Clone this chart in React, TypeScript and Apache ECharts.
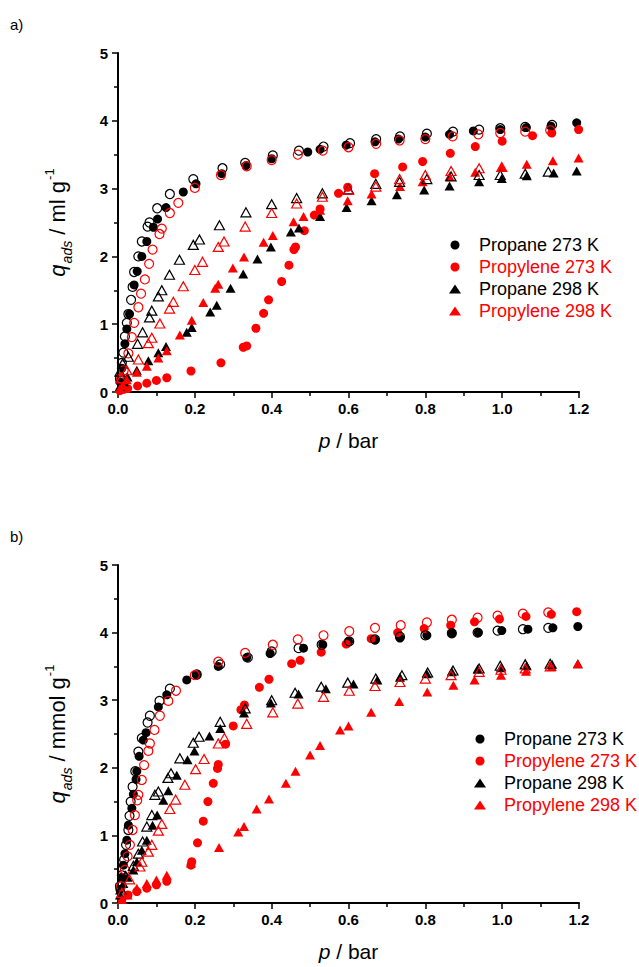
import React, { useEffect, useRef } from "react";
import * as echarts from "echarts";

type P = [number, number];

// ---------- Panel a) ml g-1 ----------
const aPropane273Ads: P[] = [[0.005,0.15],[0.01,0.35],[0.018,0.71],[0.023,0.93],[0.03,1.15],[0.042,1.58],[0.05,1.78],[0.062,2.0],[0.075,2.22],[0.092,2.43],[0.103,2.55],[0.125,2.72],[0.17,2.95],[0.203,3.07],[0.27,3.22],[0.333,3.34],[0.40,3.44],[0.494,3.54],[0.526,3.58],[0.594,3.64],[0.669,3.69],[0.73,3.73],[0.80,3.76],[0.863,3.80],[0.925,3.85],[0.995,3.87],[1.063,3.90],[1.127,3.92],[1.194,3.97]];
const aPropane273Des: P[] = [[0.005,0.2],[0.01,0.43],[0.014,0.58],[0.018,0.82],[0.023,1.02],[0.027,1.15],[0.034,1.36],[0.038,1.55],[0.042,1.77],[0.053,2.0],[0.062,2.22],[0.077,2.44],[0.082,2.50],[0.102,2.71],[0.135,2.92],[0.196,3.14],[0.272,3.30],[0.331,3.38],[0.403,3.49],[0.471,3.56],[0.535,3.62],[0.604,3.67],[0.672,3.73],[0.734,3.77],[0.804,3.81],[0.872,3.84],[0.94,3.87],[0.995,3.89],[1.06,3.91],[1.13,3.94]];
const aPropylene273Ads: P[] = [[0.005,0.02],[0.015,0.04],[0.025,0.05],[0.051,0.09],[0.075,0.13],[0.10,0.17],[0.127,0.21],[0.19,0.31],[0.268,0.43],[0.326,0.66],[0.335,0.68],[0.359,0.94],[0.379,1.16],[0.392,1.36],[0.426,1.63],[0.445,1.87],[0.458,2.10],[0.462,2.14],[0.485,2.38],[0.511,2.61],[0.526,2.70],[0.574,2.93],[0.598,3.02],[0.668,3.22],[0.741,3.32],[0.793,3.40],[0.865,3.52],[0.93,3.62],[1.0,3.70],[1.079,3.78],[1.129,3.82],[1.199,3.87]];
const aPropylene273Des: P[] = [[0.008,0.2],[0.015,0.32],[0.027,0.57],[0.036,0.81],[0.042,1.02],[0.053,1.25],[0.06,1.45],[0.07,1.66],[0.081,1.89],[0.09,2.10],[0.108,2.33],[0.114,2.41],[0.135,2.64],[0.157,2.79],[0.20,3.01],[0.268,3.20],[0.335,3.33],[0.40,3.42],[0.468,3.50],[0.533,3.56],[0.60,3.61],[0.672,3.66],[0.733,3.71],[0.80,3.73],[0.871,3.77],[0.938,3.80],[0.995,3.82],[1.06,3.84],[1.125,3.86]];
const aPropane298Ads: P[] = [[0.005,0.08],[0.015,0.15],[0.025,0.22],[0.049,0.32],[0.079,0.46],[0.105,0.58],[0.125,0.67],[0.179,0.88],[0.192,0.95],[0.24,1.18],[0.257,1.28],[0.293,1.53],[0.326,1.74],[0.363,1.96],[0.398,2.14],[0.45,2.36],[0.471,2.42],[0.526,2.59],[0.595,2.72],[0.66,2.82],[0.726,2.91],[0.797,2.98],[0.863,3.04],[0.94,3.10],[0.999,3.15],[1.064,3.19],[1.134,3.23],[1.194,3.26]];
const aPropane298Des: P[] = [[0.005,0.3],[0.012,0.42],[0.027,0.52],[0.051,0.71],[0.064,0.88],[0.082,1.10],[0.088,1.20],[0.105,1.41],[0.114,1.50],[0.134,1.73],[0.16,1.95],[0.196,2.17],[0.212,2.25],[0.264,2.46],[0.333,2.65],[0.40,2.77],[0.465,2.86],[0.532,2.93],[0.60,2.99],[0.671,3.07],[0.733,3.10],[0.804,3.14],[0.867,3.18],[0.94,3.20],[0.995,3.20],[1.06,3.22],[1.12,3.25]];
const aPropylene298Ads: P[] = [[0.005,0.05],[0.012,0.1],[0.023,0.18],[0.049,0.29],[0.075,0.38],[0.105,0.50],[0.127,0.61],[0.161,0.84],[0.192,1.06],[0.222,1.32],[0.253,1.53],[0.261,1.59],[0.299,1.83],[0.328,1.99],[0.379,2.21],[0.403,2.31],[0.457,2.51],[0.483,2.59],[0.526,2.68],[0.598,2.82],[0.66,2.92],[0.734,3.03],[0.793,3.10],[0.863,3.18],[0.93,3.24],[0.999,3.31],[1.064,3.36],[1.132,3.41],[1.199,3.45]];
const aPropylene298Des: P[] = [[0.008,0.2],[0.023,0.32],[0.053,0.48],[0.079,0.72],[0.088,0.80],[0.109,1.01],[0.134,1.23],[0.144,1.33],[0.17,1.56],[0.20,1.80],[0.22,1.92],[0.261,2.14],[0.276,2.22],[0.331,2.44],[0.40,2.64],[0.465,2.78],[0.532,2.88],[0.60,2.98],[0.671,3.03],[0.733,3.14],[0.80,3.20],[0.867,3.26],[0.94,3.30],[0.999,3.32]];

// ---------- Panel b) mmol g-1 ----------
const bPropane273Ads: P[] = [[0.005,0.2],[0.01,0.38],[0.014,0.56],[0.018,0.73],[0.023,0.93],[0.027,1.15],[0.036,1.40],[0.04,1.61],[0.047,1.83],[0.049,1.95],[0.055,2.17],[0.066,2.41],[0.073,2.52],[0.105,2.90],[0.127,3.08],[0.179,3.30],[0.205,3.37],[0.261,3.50],[0.335,3.63],[0.396,3.69],[0.483,3.77],[0.533,3.82],[0.60,3.87],[0.669,3.89],[0.734,3.92],[0.804,3.96],[0.869,3.99],[0.938,4.00],[0.999,4.03],[1.067,4.05],[1.132,4.07],[1.197,4.09]];
const bPropane273Des: P[] = [[0.005,0.25],[0.01,0.41],[0.016,0.64],[0.021,0.86],[0.027,1.08],[0.03,1.29],[0.033,1.50],[0.038,1.72],[0.045,1.95],[0.053,2.24],[0.062,2.44],[0.077,2.67],[0.083,2.77],[0.108,2.99],[0.135,3.17],[0.205,3.38],[0.266,3.53],[0.338,3.63],[0.40,3.72],[0.47,3.77],[0.53,3.82],[0.602,3.87],[0.669,3.90],[0.734,3.94],[0.80,3.96],[0.869,3.99],[0.936,4.00],[0.988,4.03],[1.054,4.05],[1.12,4.07]];
const bPropylene273Ads: P[] = [[0.01,0.05],[0.026,0.12],[0.049,0.17],[0.075,0.22],[0.10,0.27],[0.127,0.32],[0.19,0.56],[0.192,0.61],[0.207,0.89],[0.222,1.21],[0.234,1.50],[0.248,1.77],[0.259,1.99],[0.261,2.05],[0.28,2.35],[0.30,2.62],[0.32,2.86],[0.329,2.93],[0.368,3.19],[0.393,3.31],[0.452,3.54],[0.474,3.59],[0.529,3.71],[0.594,3.83],[0.659,3.91],[0.728,4.00],[0.797,4.06],[0.866,4.11],[0.928,4.16],[0.993,4.20],[1.062,4.24],[1.128,4.27],[1.194,4.31]];
const bPropylene273Des: P[] = [[0.008,0.25],[0.018,0.49],[0.025,0.69],[0.031,0.86],[0.038,1.08],[0.044,1.30],[0.05,1.52],[0.053,1.60],[0.062,1.82],[0.068,2.04],[0.079,2.25],[0.083,2.36],[0.095,2.56],[0.109,2.77],[0.131,2.99],[0.151,3.14],[0.20,3.37],[0.261,3.57],[0.331,3.70],[0.403,3.82],[0.468,3.90],[0.535,3.96],[0.602,4.02],[0.669,4.07],[0.736,4.11],[0.804,4.15],[0.869,4.19],[0.936,4.22],[0.988,4.25],[1.054,4.28],[1.12,4.30]];
const bPropane298Ads: P[] = [[0.005,0.12],[0.014,0.29],[0.025,0.38],[0.04,0.49],[0.049,0.61],[0.062,0.78],[0.075,0.93],[0.09,1.15],[0.102,1.30],[0.118,1.52],[0.131,1.66],[0.153,1.89],[0.181,2.12],[0.199,2.25],[0.238,2.47],[0.266,2.58],[0.328,2.81],[0.398,2.96],[0.47,3.09],[0.541,3.17],[0.613,3.24],[0.675,3.30],[0.734,3.34],[0.804,3.39],[0.869,3.42],[0.936,3.46],[0.997,3.48],[1.064,3.51],[1.13,3.53],[1.197,3.54]];
const bPropane298Des: P[] = [[0.008,0.2],[0.02,0.4],[0.04,0.55],[0.053,0.73],[0.064,0.91],[0.075,1.13],[0.088,1.30],[0.096,1.60],[0.105,1.65],[0.13,1.85],[0.138,1.92],[0.161,2.14],[0.196,2.37],[0.211,2.46],[0.266,2.68],[0.331,2.88],[0.40,3.00],[0.461,3.11],[0.529,3.20],[0.598,3.26],[0.671,3.32],[0.739,3.37],[0.806,3.41],[0.872,3.44],[0.94,3.47],[0.995,3.51],[1.06,3.53],[1.125,3.54]];
const bPropylene298Ads: P[] = [[0.01,0.05],[0.025,0.12],[0.049,0.22],[0.075,0.29],[0.10,0.34],[0.127,0.41],[0.19,0.59],[0.263,0.82],[0.313,1.05],[0.328,1.13],[0.361,1.39],[0.393,1.54],[0.437,1.77],[0.462,1.95],[0.50,2.19],[0.526,2.33],[0.578,2.56],[0.60,2.62],[0.659,2.82],[0.732,2.98],[0.805,3.12],[0.873,3.22],[0.928,3.30],[0.997,3.37],[1.062,3.43],[1.129,3.50],[1.197,3.54]];
const bPropylene298Des: P[] = [[0.01,0.15],[0.03,0.35],[0.057,0.54],[0.062,0.61],[0.079,0.76],[0.088,0.86],[0.105,1.07],[0.114,1.17],[0.135,1.39],[0.15,1.53],[0.174,1.75],[0.202,1.98],[0.224,2.13],[0.261,2.36],[0.277,2.44],[0.335,2.65],[0.403,2.82],[0.468,2.95],[0.535,3.05],[0.602,3.14],[0.669,3.21],[0.734,3.27],[0.80,3.32],[0.867,3.37],[0.94,3.42],[0.997,3.45],[1.06,3.47],[1.125,3.50]];

const legendNames = ["Propane 273 K", "Propylene 273 K", "Propane 298 K", "Propylene 298 K"];
const xTickLabels = ["0.0", "0.2", "0.4", "0.6", "0.8", "1.0", "1.2"];
const yTickLabels = ["0", "1", "2", "3", "4", "5"];

const BLACK = "#000000";
const RED = "#ff0000";
const FONT = "Liberation Sans, Arial, sans-serif";

export default function App() {
  const ref = useRef<HTMLDivElement>(null);
  useEffect(() => {
    document.body.style.margin = "0";
    if (!ref.current) return;
    const chart = echarts.init(ref.current, undefined, { renderer: "svg" });

    const grids = [
      { left: 118, top: 53, width: 461, height: 339 },
      { left: 118, top: 565, width: 461, height: 338 },
    ];

    const xAxisFor = (gi: number) => ({
      type: "value",
      gridIndex: gi,
      min: 0,
      max: 1.2,
      interval: 0.2,
      name: "{i|p}{t| / bar}",
      nameLocation: "middle",
      nameGap: 38,
      nameTextStyle: {
        rich: {
          i: { fontStyle: "italic", fontSize: 21, fontFamily: FONT, color: BLACK },
          t: { fontSize: 21, fontFamily: FONT, color: BLACK },
        },
      },
      axisLine: { show: true, lineStyle: { color: BLACK, width: 2 } },
      axisTick: { show: true, inside: false, length: 6, lineStyle: { color: BLACK, width: 1.5 } },
      minorTick: { show: true, splitNumber: 2, length: 4, lineStyle: { color: BLACK, width: 1.5 } },
      splitLine: { show: false },
      axisLabel: {
        margin: 9,
        fontSize: 15,
        fontWeight: "bold",
        fontFamily: FONT,
        color: BLACK,
        formatter: (v: number) => xTickLabels[Math.round(v / 0.2)] ?? "",
      },
    });

    const yAxisFor = (gi: number, unit: string) => ({
      type: "value",
      gridIndex: gi,
      min: 0,
      max: 5,
      interval: 1,
      name: `{i|q}{sub|ads}{t| / ${unit} g}{sup|-1}`,
      nameLocation: "middle",
      nameRotate: 90,
      nameGap: 44,
      nameTextStyle: {
        rich: {
          i: { fontStyle: "italic", fontSize: 22, lineHeight: 22, fontFamily: FONT, color: BLACK, verticalAlign: "bottom", padding: [0, 0, 6, 0] },
          sub: { fontStyle: "italic", fontSize: 14, lineHeight: 14, fontFamily: FONT, color: BLACK, verticalAlign: "bottom", padding: [0, 0, 0, 1] },
          t: { fontSize: 22, lineHeight: 22, fontFamily: FONT, color: BLACK, verticalAlign: "bottom", padding: [0, 0, 6, 0] },
          sup: { fontSize: 13, lineHeight: 13, fontFamily: FONT, color: BLACK, verticalAlign: "bottom", padding: [0, 0, 18, 1] },
        },
      },
      axisLine: { show: true, lineStyle: { color: BLACK, width: 2 } },
      axisTick: { show: true, inside: false, length: 6, lineStyle: { color: BLACK, width: 1.5 } },
      minorTick: { show: true, splitNumber: 2, length: 4, lineStyle: { color: BLACK, width: 1.5 } },
      splitLine: { show: false },
      axisLabel: {
        margin: 10,
        fontSize: 15,
        fontWeight: "bold",
        fontFamily: FONT,
        color: BLACK,
        formatter: (v: number) => yTickLabels[Math.round(v)] ?? "",
      },
    });

    const filled = (name: string, gi: number, data: P[], color: string, symbol: string, size: any) => ({
      type: "scatter",
      name,
      xAxisIndex: gi,
      yAxisIndex: gi,
      data,
      symbol,
      symbolSize: size,
      itemStyle: { color, opacity: 1 },
      z: 2,
    });
    const open = (name: string, gi: number, data: P[], color: string, symbol: string, size: any) => ({
      type: "scatter",
      name,
      xAxisIndex: gi,
      yAxisIndex: gi,
      data,
      symbol,
      symbolSize: size,
      itemStyle: { color: "rgba(255,255,255,0)", borderColor: color, borderWidth: 1.2, opacity: 1 },
      z: 3,
    });

    const CS = 9;
    const TS = [10, 9];

    const series = [
      filled(legendNames[0], 0, aPropane273Ads, BLACK, "circle", CS),
      filled(legendNames[1], 0, aPropylene273Ads, RED, "circle", CS),
      filled(legendNames[2], 0, aPropane298Ads, BLACK, "triangle", TS),
      filled(legendNames[3], 0, aPropylene298Ads, RED, "triangle", TS),
      open("a Propane 273 K desorption", 0, aPropane273Des, BLACK, "circle", CS),
      open("a Propylene 273 K desorption", 0, aPropylene273Des, RED, "circle", CS),
      open("a Propane 298 K desorption", 0, aPropane298Des, BLACK, "triangle", TS),
      open("a Propylene 298 K desorption", 0, aPropylene298Des, RED, "triangle", TS),
      filled(legendNames[0], 1, bPropane273Ads, BLACK, "circle", CS),
      filled(legendNames[1], 1, bPropylene273Ads, RED, "circle", CS),
      filled(legendNames[2], 1, bPropane298Ads, BLACK, "triangle", TS),
      filled(legendNames[3], 1, bPropylene298Ads, RED, "triangle", TS),
      open("b Propane 273 K desorption", 1, bPropane273Des, BLACK, "circle", CS),
      open("b Propylene 273 K desorption", 1, bPropylene273Des, RED, "circle", CS),
      open("b Propane 298 K desorption", 1, bPropane298Des, BLACK, "triangle", TS),
      open("b Propylene 298 K desorption", 1, bPropylene298Des, RED, "triangle", TS),
    ];

    const legendFor = (left: number, top: number) => ({
      orient: "vertical",
      left,
      top,
      itemWidth: 12,
      itemHeight: 9,
      itemGap: 4,
      selectedMode: false,
      data: legendNames.map((n, i) => ({
        name: n,
        textStyle: { color: i % 2 === 0 ? BLACK : RED },
      })),
      textStyle: { fontSize: 18, fontFamily: FONT, padding: [0, 0, 0, 13] },
    });

    chart.setOption({
      animation: false,
      backgroundColor: "#ffffff",
      grid: grids,
      xAxis: [xAxisFor(0), xAxisFor(1)],
      yAxis: [yAxisFor(0, "ml"), yAxisFor(1, "mmol")],
      legend: [legendFor(444, 231), legendFor(469, 725)],
      graphic: [
        { type: "text", left: 10, top: 17, style: { text: "a)", fontSize: 15, fontFamily: FONT, fill: BLACK } },
        { type: "text", left: 10, top: 529, style: { text: "b)", fontSize: 15, fontFamily: FONT, fill: BLACK } },
      ],
      series,
    });

    return () => chart.dispose();
  }, []);

  return <div ref={ref} style={{ width: 639, height: 967 }} />;
}
